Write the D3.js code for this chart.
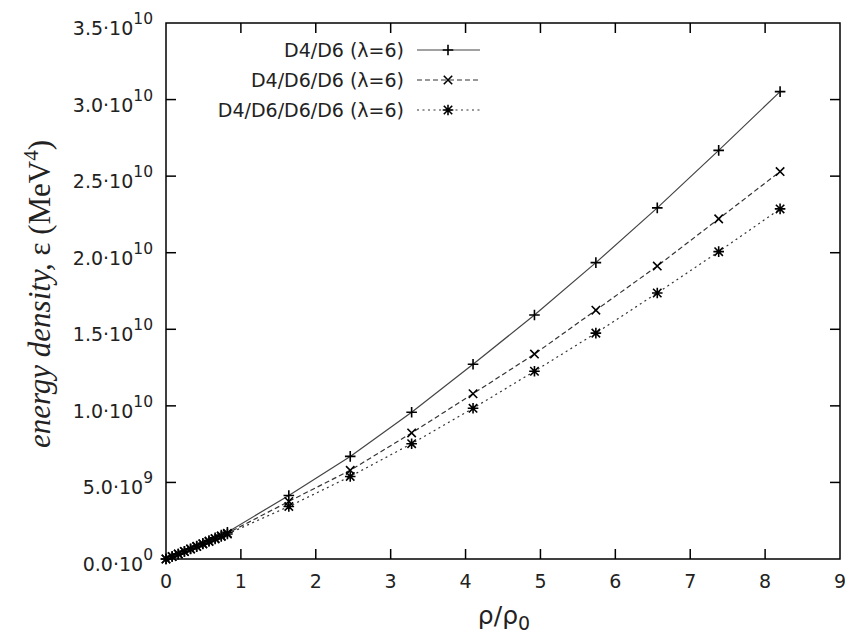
<!DOCTYPE html>
<html>
<head>
<meta charset="utf-8">
<script src="https://cdn.jsdelivr.net/npm/d3@7"></script>
<style>
  body { margin: 0; background: #fff; }
  svg { display: block; }
  .tick-label { font-family: "DejaVu Sans", sans-serif; font-size: 19px; fill: #222; }
  .legend-label { font-family: "DejaVu Sans", sans-serif; font-size: 19px; fill: #222; }
</style>
</head>
<body>
<div id="chart"></div>
<script>
// density ratio rho/rho0
var rho = [0, 0.082, 0.164, 0.246, 0.328, 0.41, 0.492, 0.574, 0.656, 0.738, 0.82,
           1.64, 2.46, 3.28, 4.1, 4.92, 5.74, 6.56, 7.38, 8.2];

// energy density in MeV^4
var d4d6 = [0, 0.16e9, 0.33e9, 0.50e9, 0.67e9, 0.84e9, 1.02e9, 1.20e9, 1.38e9, 1.56e9, 1.75e9,
            4.15e9, 6.70e9, 9.58e9, 1.272e10, 1.593e10, 1.935e10, 2.293e10, 2.668e10, 3.052e10];
var d4d6d6 = [0, 0.16e9, 0.33e9, 0.49e9, 0.66e9, 0.83e9, 1.00e9, 1.17e9, 1.34e9, 1.51e9, 1.68e9,
              3.76e9, 5.79e9, 8.23e9, 1.079e10, 1.338e10, 1.625e10, 1.913e10, 2.221e10, 2.530e10];
var d4d6d6d6 = [0, 0.16e9, 0.32e9, 0.49e9, 0.65e9, 0.81e9, 0.98e9, 1.14e9, 1.31e9, 1.47e9, 1.63e9,
                3.43e9, 5.39e9, 7.53e9, 9.84e9, 1.226e10, 1.475e10, 1.737e10, 2.007e10, 2.286e10];

var seriesNames = ["D4/D6 (\u03bb=6)", "D4/D6/D6 (\u03bb=6)", "D4/D6/D6/D6 (\u03bb=6)"];
var xTicks = [0, 1, 2, 3, 4, 5, 6, 7, 8, 9];
var yTicks = [0, 5e9, 1e10, 1.5e10, 2e10, 2.5e10, 3e10, 3.5e10];
var yTickMant = ["0.0", "5.0", "1.0", "1.5", "2.0", "2.5", "3.0", "3.5"];
var yTickExp = ["0", "9", "10", "10", "10", "10", "10", "10"];

var W = 845, H = 633;
var margin = {left: 166, right: 5, top: 23, bottom: 74};
var w = W - margin.left - margin.right;
var h = H - margin.top - margin.bottom;

var svg = d3.select("#chart").append("svg")
    .attr("width", W)
    .attr("height", H);

var g = svg.append("g")
    .attr("transform", "translate(" + margin.left + "," + margin.top + ")");

var x = d3.scaleLinear().domain([0, 9]).range([0, w]);
var y = d3.scaleLinear().domain([0, 3.5e10]).range([h, 0]);

// markers: 0 = plus, 1 = cross, 2 = star
function markerPath(type) {
  var s = 5.3, c = 4.2;
  if (type == 0) return "M" + (-s) + ",0H" + s + "M0," + (-s) + "V" + s;
  if (type == 1) return "M" + (-c) + "," + (-c) + "L" + c + "," + c + "M" + (-c) + "," + c + "L" + c + "," + (-c);
  return "M" + (-s) + ",0H" + s + "M0," + (-s) + "V" + s +
         "M" + (-c) + "," + (-c) + "L" + c + "," + c + "M" + (-c) + "," + c + "L" + c + "," + (-c);
}

var dashes = [null, "5,3", "2,3.5"];
var lineColor = ["#444", "#333", "#333"];
var allSeries = [d4d6, d4d6d6, d4d6d6d6];

var line = d3.line()
    .x(function(d, i) { return x(rho[i]); })
    .y(function(d) { return y(d); });

allSeries.forEach(function(vals, k) {
  g.append("path")
      .attr("d", line(vals))
      .style("fill", "none")
      .style("stroke", lineColor[k])
      .style("stroke-width", 1.2)
      .style("stroke-dasharray", dashes[k]);

  g.selectAll(".pt" + k)
    .data(vals)
    .enter().append("path")
      .attr("class", "pt" + k)
      .attr("transform", function(d, i) { return "translate(" + x(rho[i]) + "," + y(d) + ")"; })
      .attr("d", markerPath(k))
      .style("fill", "none")
      .style("stroke", "#000")
      .style("stroke-width", 1.6);
});

// frame and mirrored ticks
g.append("rect")
    .attr("width", w).attr("height", h)
    .style("fill", "none").style("stroke", "#000").style("stroke-width", 1.5);

var tickLen = 10;
xTicks.forEach(function(t) {
  if (t == 0 || t == 9) return;
  g.append("line").attr("x1", x(t)).attr("x2", x(t)).attr("y1", h).attr("y2", h - tickLen)
    .style("stroke", "#000").style("stroke-width", 1.5);
  g.append("line").attr("x1", x(t)).attr("x2", x(t)).attr("y1", 0).attr("y2", tickLen)
    .style("stroke", "#000").style("stroke-width", 1.5);
});
yTicks.forEach(function(t) {
  if (t == 0 || t == 3.5e10) return;
  g.append("line").attr("x1", 0).attr("x2", tickLen).attr("y1", y(t)).attr("y2", y(t))
    .style("stroke", "#000").style("stroke-width", 1.5);
  g.append("line").attr("x1", w).attr("x2", w - tickLen).attr("y1", y(t)).attr("y2", y(t))
    .style("stroke", "#000").style("stroke-width", 1.5);
});

// x tick labels
g.selectAll(".xlab")
  .data(xTicks)
  .enter().append("text")
    .attr("class", "tick-label")
    .attr("x", function(d) { return x(d); })
    .attr("y", h + 29)
    .attr("text-anchor", "middle")
    .text(function(d) { return d; });

// y tick labels with exponent
yTicks.forEach(function(t, i) {
  var txt = g.append("text")
      .attr("class", "tick-label")
      .attr("x", -13)
      .attr("y", y(t) + 12)
      .attr("text-anchor", "end");
  txt.append("tspan").text(yTickMant[i] + "\u00b710");
  txt.append("tspan").attr("dy", -11).style("font-size", "15.5px").text(yTickExp[i]);
});

// axis titles
var yt = svg.append("text")
    .attr("transform", "translate(50,294) rotate(-90)")
    .attr("text-anchor", "middle")
    .style("font-family", "'Liberation Serif', serif")
    .style("font-size", "31px")
    .style("fill", "#222");
yt.append("tspan").style("font-style", "italic").text("energy density,");
yt.append("tspan").text(" \u03b5 (MeV");
yt.append("tspan").attr("dy", -12).style("font-size", "21px").text("4");
yt.append("tspan").attr("dy", 12).text(")");

var xt = svg.append("text")
    .attr("x", 504)
    .attr("y", 624)
    .attr("text-anchor", "middle")
    .style("font-family", "'DejaVu Sans', sans-serif")
    .style("font-size", "25px")
    .style("fill", "#222");
xt.append("tspan").text("\u03c1/\u03c1");
xt.append("tspan").attr("dy", 6).style("font-size", "19px").text("0");

// legend
var legendY = [50, 80, 110];
seriesNames.forEach(function(name, k) {
  var ly = legendY[k];
  svg.append("text")
      .attr("class", "legend-label")
      .attr("x", 404)
      .attr("y", ly + 7)
      .attr("text-anchor", "end")
      .text(name);
  svg.append("line")
      .attr("x1", 417).attr("x2", 480).attr("y1", ly).attr("y2", ly)
      .style("stroke", lineColor[k])
      .style("stroke-width", 1.2)
      .style("stroke-dasharray", dashes[k]);
  svg.append("path")
      .attr("transform", "translate(448," + ly + ")")
      .attr("d", markerPath(k))
      .style("fill", "none")
      .style("stroke", "#000")
      .style("stroke-width", 1.6);
});
</script>
</body>
</html>
